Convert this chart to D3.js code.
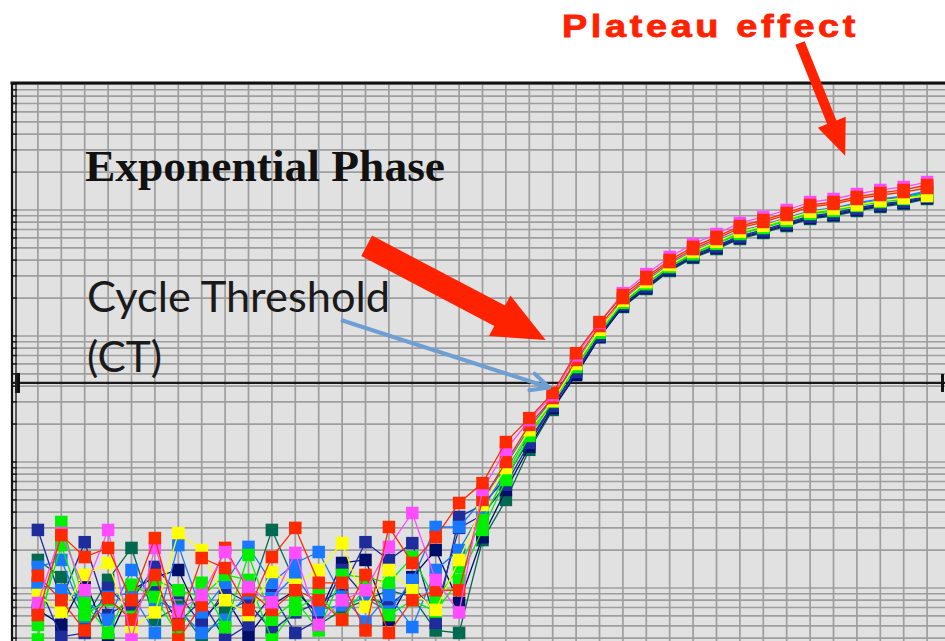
<!DOCTYPE html>
<html>
<head>
<meta charset="utf-8">
<script src="https://cdn.jsdelivr.net/npm/d3@7"></script>
<style>
  html, body { margin: 0; padding: 0; background: #ffffff; }
  svg { display: block; }
</style>
</head>
<body>
<svg id="chart" width="945" height="641"></svg>
<script>
// ---------------- DATA ----------------
const cycles = [1,2,3,4,5,6,7,8,9,10,11,12,13,14,15,16,17,18,19,20,21,22,23,24,25,26,27,28,29,30,31,32,33,34,35,36,37,38,39];

// fluorescence (ΔRn, arbitrary units, log axis), one value per cycle
const teal    = [1.67,1.22,0.56,1.16,2.08,0.56,0.71,0.39,0.65,0.80,2.89,1.10,0.51,0.67,0.80,0.96,0.85,0.46,
                 0.44,2.40,5.0,12.5,25.9,50,98,170,236,328,417,490,589,657,746,849,896,982,1057,1116,1223];
const navy    = [0.67,0.51,1.16,0.39,0.96,1.22,1.39,0.56,0.85,0.42,0.73,0.96,0.61,1.58,1.67,0.56,1.22,2.0,
                 0.76,2.53,6.0,13.2,26.8,49.0,98,172,240,334,424,500,600,669,760,864,913,1000,1077,1137,1243];
const royal2  = [1.10,0.41,0.44,1.0,0.67,1.06,0.53,0.80,0.39,0.51,0.88,0.44,0.56,1.39,0.85,0.73,1.02,0.65,
                 3.0,3.80,6.6,14.2,27.8,51.8,100,176,245,340,432,510,611,681,776,880,930,1018,1096,1157,1268];
const royal   = [2.89,0.80,2.31,0.61,0.80,1.47,0.91,0.51,0.96,0.76,0.46,0.64,0.76,0.96,2.31,1.67,2.27,0.53,
                 3.66,4.56,7.5,15.0,28.3,53.7,102,179,249,345,440,519,622,694,789,896,947,1037,1116,1178,1291];
const blue2   = [1.06,0.96,0.80,0.56,1.39,0.80,0.67,0.44,0.56,0.91,0.83,1.27,0.67,0.73,0.83,0.65,1.16,3.05,
                 3.05,5.0,9.5,18.6,31.6,61,110,189,268,366,464,557,669,746,849,964,1018,1116,1200,1268,1389];
const blue    = [1.47,1.67,0.59,0.85,0.91,0.44,2.19,0.64,1.10,2.12,1.10,1.58,1.93,0.85,0.54,0.88,0.49,1.39,
                 2.0,4.16,8.6,17.9,32.2,62,112,193,273,373,473,568,683,760,866,982,1037,1137,1223,1290,1416];
const green2  = [0.51,2.19,0.61,0.80,0.59,1.16,0.96,0.85,1.27,1.16,0.39,0.67,0.88,0.56,1.02,0.61,0.80,0.65,
                 1.16,2.89,7.2,16.1,30.0,56.8,106,183,258,353,446,538,645,720,818,930,982,1077,1157,1223,1315];
const green   = [0.39,3.34,0.76,0.44,1.06,0.85,0.42,1.10,0.49,1.83,0.56,0.80,0.46,1.27,1.22,1.10,1.76,0.80,
                 1.47,3.47,7.9,17.0,31.0,58.9,107,185,262,358,453,545,655,734,834,947,1000,1096,1180,1243,1365];
const yellow  = [0.88,0.65,1.27,1.58,0.48,0.64,2.73,2.0,0.80,0.61,1.34,1.06,1.39,2.27,0.71,1.39,0.96,0.67,
                 1.67,4.56,8.96,17.9,30.5,60,112,190,268,366,465,558,672,748,850,967,1020,1096,1180,1243,1290];
const red2    = [1.25,0.80,0.46,0.83,0.56,1.27,0.39,0.73,2.08,0.96,0.67,0.96,0.80,0.56,1.27,0.44,0.80,0.96,
                 0.96,5.0,10,19.7,32.2,64.5,120,200,283,386,490,589,720,803,913,1057,1116,1223,1315,1389,1495];
const magenta = [0.76,2.73,0.96,2.89,0.39,2.08,0.65,0.88,1.93,1.02,0.77,1.90,0.51,0.80,0.96,2.12,3.94,1.16,
                 0.64,6.0,12.5,21.5,34.0,70,127,219,310,424,538,645,790,880,1000,1157,1223,1340,1442,1524,1667];
const red     = [0.61,2.63,1.76,2.08,0.80,2.49,0.51,1.73,1.44,0.67,1.76,3.0,1.10,1.10,0.46,3.05,1.58,2.53,
                 4.73,6.8,14.4,22.3,35.3,73,129,211,294,401,509,611,746,833,947,1096,1157,1268,1365,1442,1579];

const seriesNames  = ["teal","navy","royal2","royal","blue2","blue","green2","green","yellow","red2","magenta","red"];
const seriesValues = [teal, navy, royal2, royal, blue2, blue, green2, green, yellow, red2, magenta, red];
const seriesColors = ["#006a50","#000f68","#1e2c9c","#1e2c9c","#1878ff","#1878ff","#00f000","#00f000","#ffff00","#ff2a00","#ff4cff","#ff2a00"];

const thresholdValue = 42.4;   // cycle threshold (CT) line

const labels = {
  plateau: "Plateau effect",
  exponential: "Exponential Phase",
  ct1: "Cycle Threshold",
  ct2: "(CT)"
};

// ---------------- CHART ----------------
const W = 945, H = 641;
const svg = d3.select("#chart");
const plotLeft = 12, plotTop = 83;

const x = d3.scaleLinear().domain([0, 40]).range([14.5, 950.5]);
const y = d3.scaleLog().domain([0.1, 10000]).range([714, 84]);

// plot background
svg.append("rect").attr("x", plotLeft).attr("y", plotTop)
  .attr("width", W - plotLeft).attr("height", H - plotTop)
  .attr("fill", "#e1e1e1");

svg.append("clipPath").attr("id", "clip").append("rect")
  .attr("x", plotLeft).attr("y", plotTop).attr("width", W - plotLeft).attr("height", H - plotTop);

const g = svg.append("g").attr("clip-path", "url(#clip)");

// horizontal log grid
const yGrid = y.ticks().filter(v => y(v) > plotTop && y(v) < H + 2);
g.append("g").selectAll("line").data(yGrid).join("line")
  .attr("x1", plotLeft).attr("x2", W)
  .attr("y1", d => y(d)).attr("y2", d => y(d))
  .attr("stroke", "#9e9e9e").attr("stroke-width", 1.7);

// vertical grid (one line per cycle)
g.append("g").selectAll("line").data(x.ticks(40).filter(d => d > 0)).join("line")
  .attr("x1", d => x(d)).attr("x2", d => x(d))
  .attr("y1", plotTop).attr("y2", H)
  .attr("stroke", "#9e9e9e").attr("stroke-width", 1.7);

// threshold line
g.append("line")
  .attr("x1", plotLeft).attr("x2", W)
  .attr("y1", y(thresholdValue)).attr("y2", y(thresholdValue))
  .attr("stroke", "#1a1a1a").attr("stroke-width", 2.2);
svg.append("rect").attr("x", 15).attr("y", y(thresholdValue) - 10).attr("width", 5).attr("height", 20).attr("fill", "#111");
svg.append("rect").attr("x", W - 4).attr("y", y(thresholdValue) - 9).attr("width", 3).attr("height", 18).attr("fill", "#111");

// series: thin lines + square markers
const line = d3.line().x((d, i) => x(cycles[i])).y(d => y(d));
const ms = 12.5;
seriesValues.forEach((vals, si) => {
  const sg = g.append("g").attr("class", "series-" + seriesNames[si]);
  sg.append("path").datum(vals).attr("d", line)
    .attr("fill", "none").attr("stroke", seriesColors[si]).attr("stroke-width", 1.3);
  sg.selectAll("rect").data(vals).join("rect")
    .attr("x", (d, i) => x(cycles[i]) - ms / 2)
    .attr("y", d => y(d) - ms / 2)
    .attr("width", ms).attr("height", ms)
    .attr("fill", seriesColors[si]);
});

// left axis (double line with tick marks) and top border
svg.append("g").selectAll("line").data(yGrid).join("line")
  .attr("x1", 11).attr("x2", 17).attr("y1", d => y(d)).attr("y2", d => y(d))
  .attr("stroke", "#222").attr("stroke-width", 1.6);
svg.append("line").attr("x1", 12).attr("x2", 12).attr("y1", plotTop).attr("y2", H)
  .attr("stroke", "#111").attr("stroke-width", 2.2);
svg.append("line").attr("x1", 16).attr("x2", 16).attr("y1", plotTop).attr("y2", H)
  .attr("stroke", "#222").attr("stroke-width", 1.4);
svg.append("line").attr("x1", 10.5).attr("x2", W).attr("y1", plotTop).attr("y2", plotTop)
  .attr("stroke", "#111").attr("stroke-width", 3);

// ---------------- ANNOTATIONS ----------------
function arrowPoly(x1, y1, x2, y2, sw, hl, hw) {
  const dx = x2 - x1, dy = y2 - y1, L = Math.hypot(dx, dy);
  const ux = dx / L, uy = dy / L, px = -uy, py = ux;
  const bx = x2 - ux * hl, by = y2 - uy * hl;
  const pts = [
    [x1 + px * sw / 2, y1 + py * sw / 2],
    [bx + px * sw / 2, by + py * sw / 2],
    [bx + px * hw / 2, by + py * hw / 2],
    [x2, y2],
    [bx - px * hw / 2, by - py * hw / 2],
    [bx - px * sw / 2, by - py * sw / 2],
    [x1 - px * sw / 2, y1 - py * sw / 2]
  ];
  return pts.map(p => p.join(",")).join(" ");
}

// big red arrow toward exponential region
svg.append("polygon")
  .attr("points", arrowPoly(x(15.05), y(520), x(22.7), y(93), 23, 52, 46))
  .attr("fill", "#ff2200");

// plateau arrow
svg.append("polygon")
  .attr("points", arrowPoly(800, 43, x(35.5), y(2700), 10, 36, 30))
  .attr("fill", "#ff2200");

// blue CT arrow
const bx1 = x(13.95), by1 = y(134), bx2 = x(22.85), by2 = y(39);
svg.append("line").attr("x1", bx1).attr("y1", by1).attr("x2", bx2).attr("y2", by2)
  .attr("stroke", "#6d9fd2").attr("stroke-width", 4);
(function () {
  const dx = bx2 - bx1, dy = by2 - by1, L = Math.hypot(dx, dy);
  const ux = dx / L, uy = dy / L;
  const a = 0.45, len = 20;
  [a, -a].forEach(t => {
    const c = Math.cos(t), s = Math.sin(t);
    const rx = ux * c - uy * s, ry = ux * s + uy * c;
    svg.append("line").attr("x1", bx2).attr("y1", by2)
      .attr("x2", bx2 - rx * len).attr("y2", by2 - ry * len)
      .attr("stroke", "#6d9fd2").attr("stroke-width", 4).attr("stroke-linecap", "round");
  });
})();

// texts
svg.append("text").text(labels.plateau)
  .attr("x", 562).attr("y", 37)
  .attr("font-family", "Liberation Sans, Arial, sans-serif")
  .attr("font-weight", 900).attr("font-size", 31)
  .attr("letter-spacing", 3)
  .attr("fill", "#ff2200").attr("stroke", "#ff2200").attr("stroke-width", 0.8)
  .attr("textLength", 297).attr("lengthAdjust", "spacingAndGlyphs");

svg.append("text").text(labels.exponential)
  .attr("x", 85).attr("y", 181)
  .attr("font-family", "Liberation Serif, Times New Roman, serif")
  .attr("font-weight", "bold").attr("font-size", 44)
  .attr("fill", "#111")
  .attr("textLength", 360).attr("lengthAdjust", "spacingAndGlyphs");

svg.append("text").text(labels.ct1)
  .attr("x", 87).attr("y", 312)
  .attr("font-family", "Lato, Open Sans, sans-serif")
  .attr("font-size", 42).attr("fill", "#1a1a1a")
  .attr("textLength", 303).attr("lengthAdjust", "spacingAndGlyphs");

svg.append("text").text(labels.ct2)
  .attr("x", 87).attr("y", 372)
  .attr("font-family", "Lato, Open Sans, sans-serif")
  .attr("font-size", 42).attr("fill", "#1a1a1a")
  .attr("textLength", 75).attr("lengthAdjust", "spacingAndGlyphs");
</script>
</body>
</html>
